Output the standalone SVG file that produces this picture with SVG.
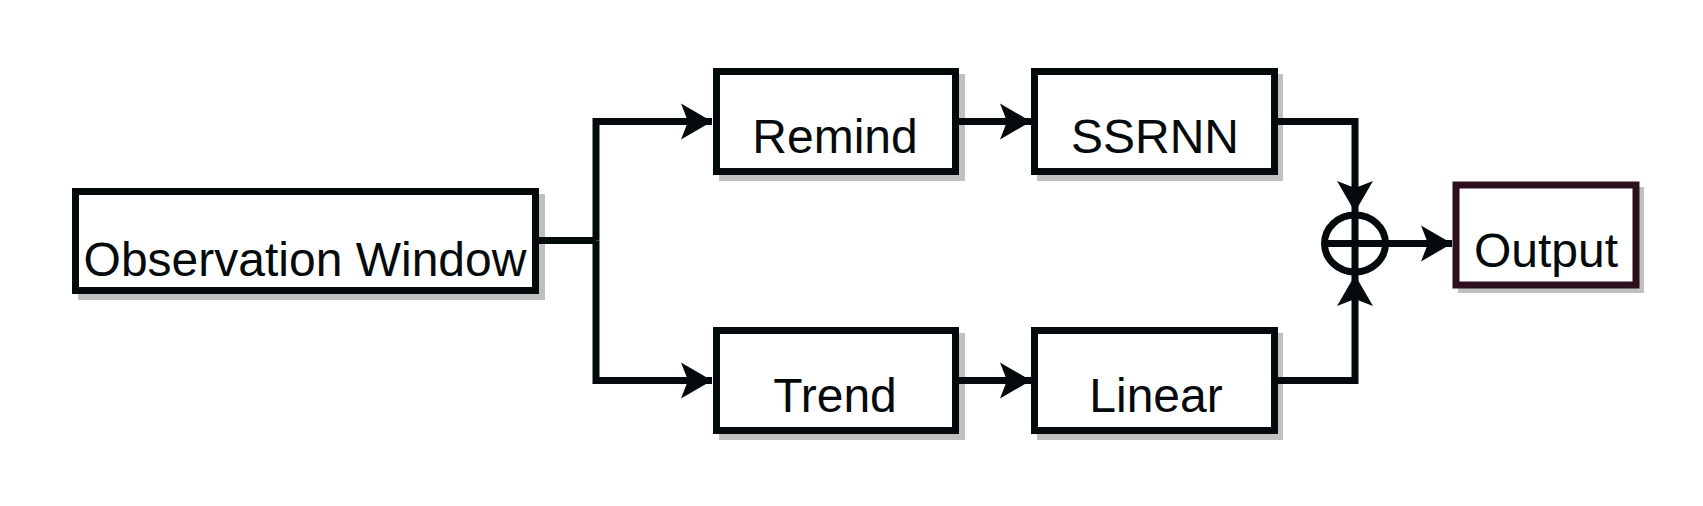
<svg xmlns="http://www.w3.org/2000/svg" width="1703" height="506" viewBox="0 0 1703 506">
<style>
.box{fill:#fff;stroke:#050a0c;stroke-width:7}
.shadow{fill:#c0c0c0}
.lbl{font-family:"Liberation Sans",Arial,sans-serif;font-size:48px;fill:#050a0c;text-anchor:middle}
.edge{fill:none;stroke:#050a0c;stroke-width:7}
</style>
<defs>
<marker id="arr" viewBox="0 0 32 38" refX="31" refY="19" markerWidth="32" markerHeight="38" markerUnits="userSpaceOnUse" orient="auto">
<path d="M0,1 L31,19 L0,37 L7,19 Z" fill="#050a0c"/>
</marker>
</defs>
<rect width="1703" height="506" fill="#fff"/>
<g id="obs">
<rect class="shadow" x="78" y="194" width="467" height="106"/>
<rect class="box" x="75.5" y="191.5" width="460" height="99"/>
<text class="lbl" x="305" y="276">Observation Window</text>
</g>
<g id="remind">
<rect class="shadow" x="719" y="74" width="246" height="107"/>
<rect class="box" x="716.5" y="71.5" width="239" height="100"/>
<text class="lbl" x="835" y="153">Remind</text>
</g>
<g id="ssrnn">
<rect class="shadow" x="1037" y="74" width="246" height="107"/>
<rect class="box" x="1034.5" y="71.5" width="240" height="100"/>
<text class="lbl" x="1155" y="153">SSRNN</text>
</g>
<g id="trend">
<rect class="shadow" x="719" y="333" width="246" height="107"/>
<rect class="box" x="716.5" y="330.5" width="239" height="100"/>
<text class="lbl" x="835" y="412">Trend</text>
</g>
<g id="linear">
<rect class="shadow" x="1037" y="333" width="246" height="107"/>
<rect class="box" x="1034.5" y="330.5" width="240" height="100"/>
<text class="lbl" x="1156" y="412">Linear</text>
</g>
<g id="sum">
<ellipse cx="1355" cy="243.5" rx="30.5" ry="28.5" fill="#fff" stroke="#050a0c" stroke-width="7"/>
<line x1="1324.5" y1="243.5" x2="1385.5" y2="243.5" stroke="#050a0c" stroke-width="7"/>
</g>
<g id="output">
<rect class="shadow" x="1458" y="187" width="186" height="106"/>
<rect class="box" x="1456" y="185" width="180" height="100" style="stroke:#2d101d"/>
<text class="lbl" x="1546" y="267">Output</text>
</g>
<g id="connectors">
<polyline class="edge" points="539,240.5 596,240.5"/>
<polyline class="edge" points="596,240.5 596,121.5 712,121.5" marker-end="url(#arr)"/>
<polyline class="edge" points="596,240.5 596,380.5 712,380.5" marker-end="url(#arr)"/>
<polyline class="edge" points="959,121.5 1031,121.5" marker-end="url(#arr)"/>
<polyline class="edge" points="959,380.5 1031,380.5" marker-end="url(#arr)"/>
<polyline class="edge" points="1278,121.5 1355,121.5 1355,212" marker-end="url(#arr)"/>
<polyline class="edge" points="1278,380.5 1355,380.5 1355,275" marker-end="url(#arr)"/>
<line x1="1355" y1="215" x2="1355" y2="272" stroke="#050a0c" stroke-width="7"/>
<polyline class="edge" points="1386,243.5 1452,243.5" marker-end="url(#arr)"/>
</g>
</svg>
